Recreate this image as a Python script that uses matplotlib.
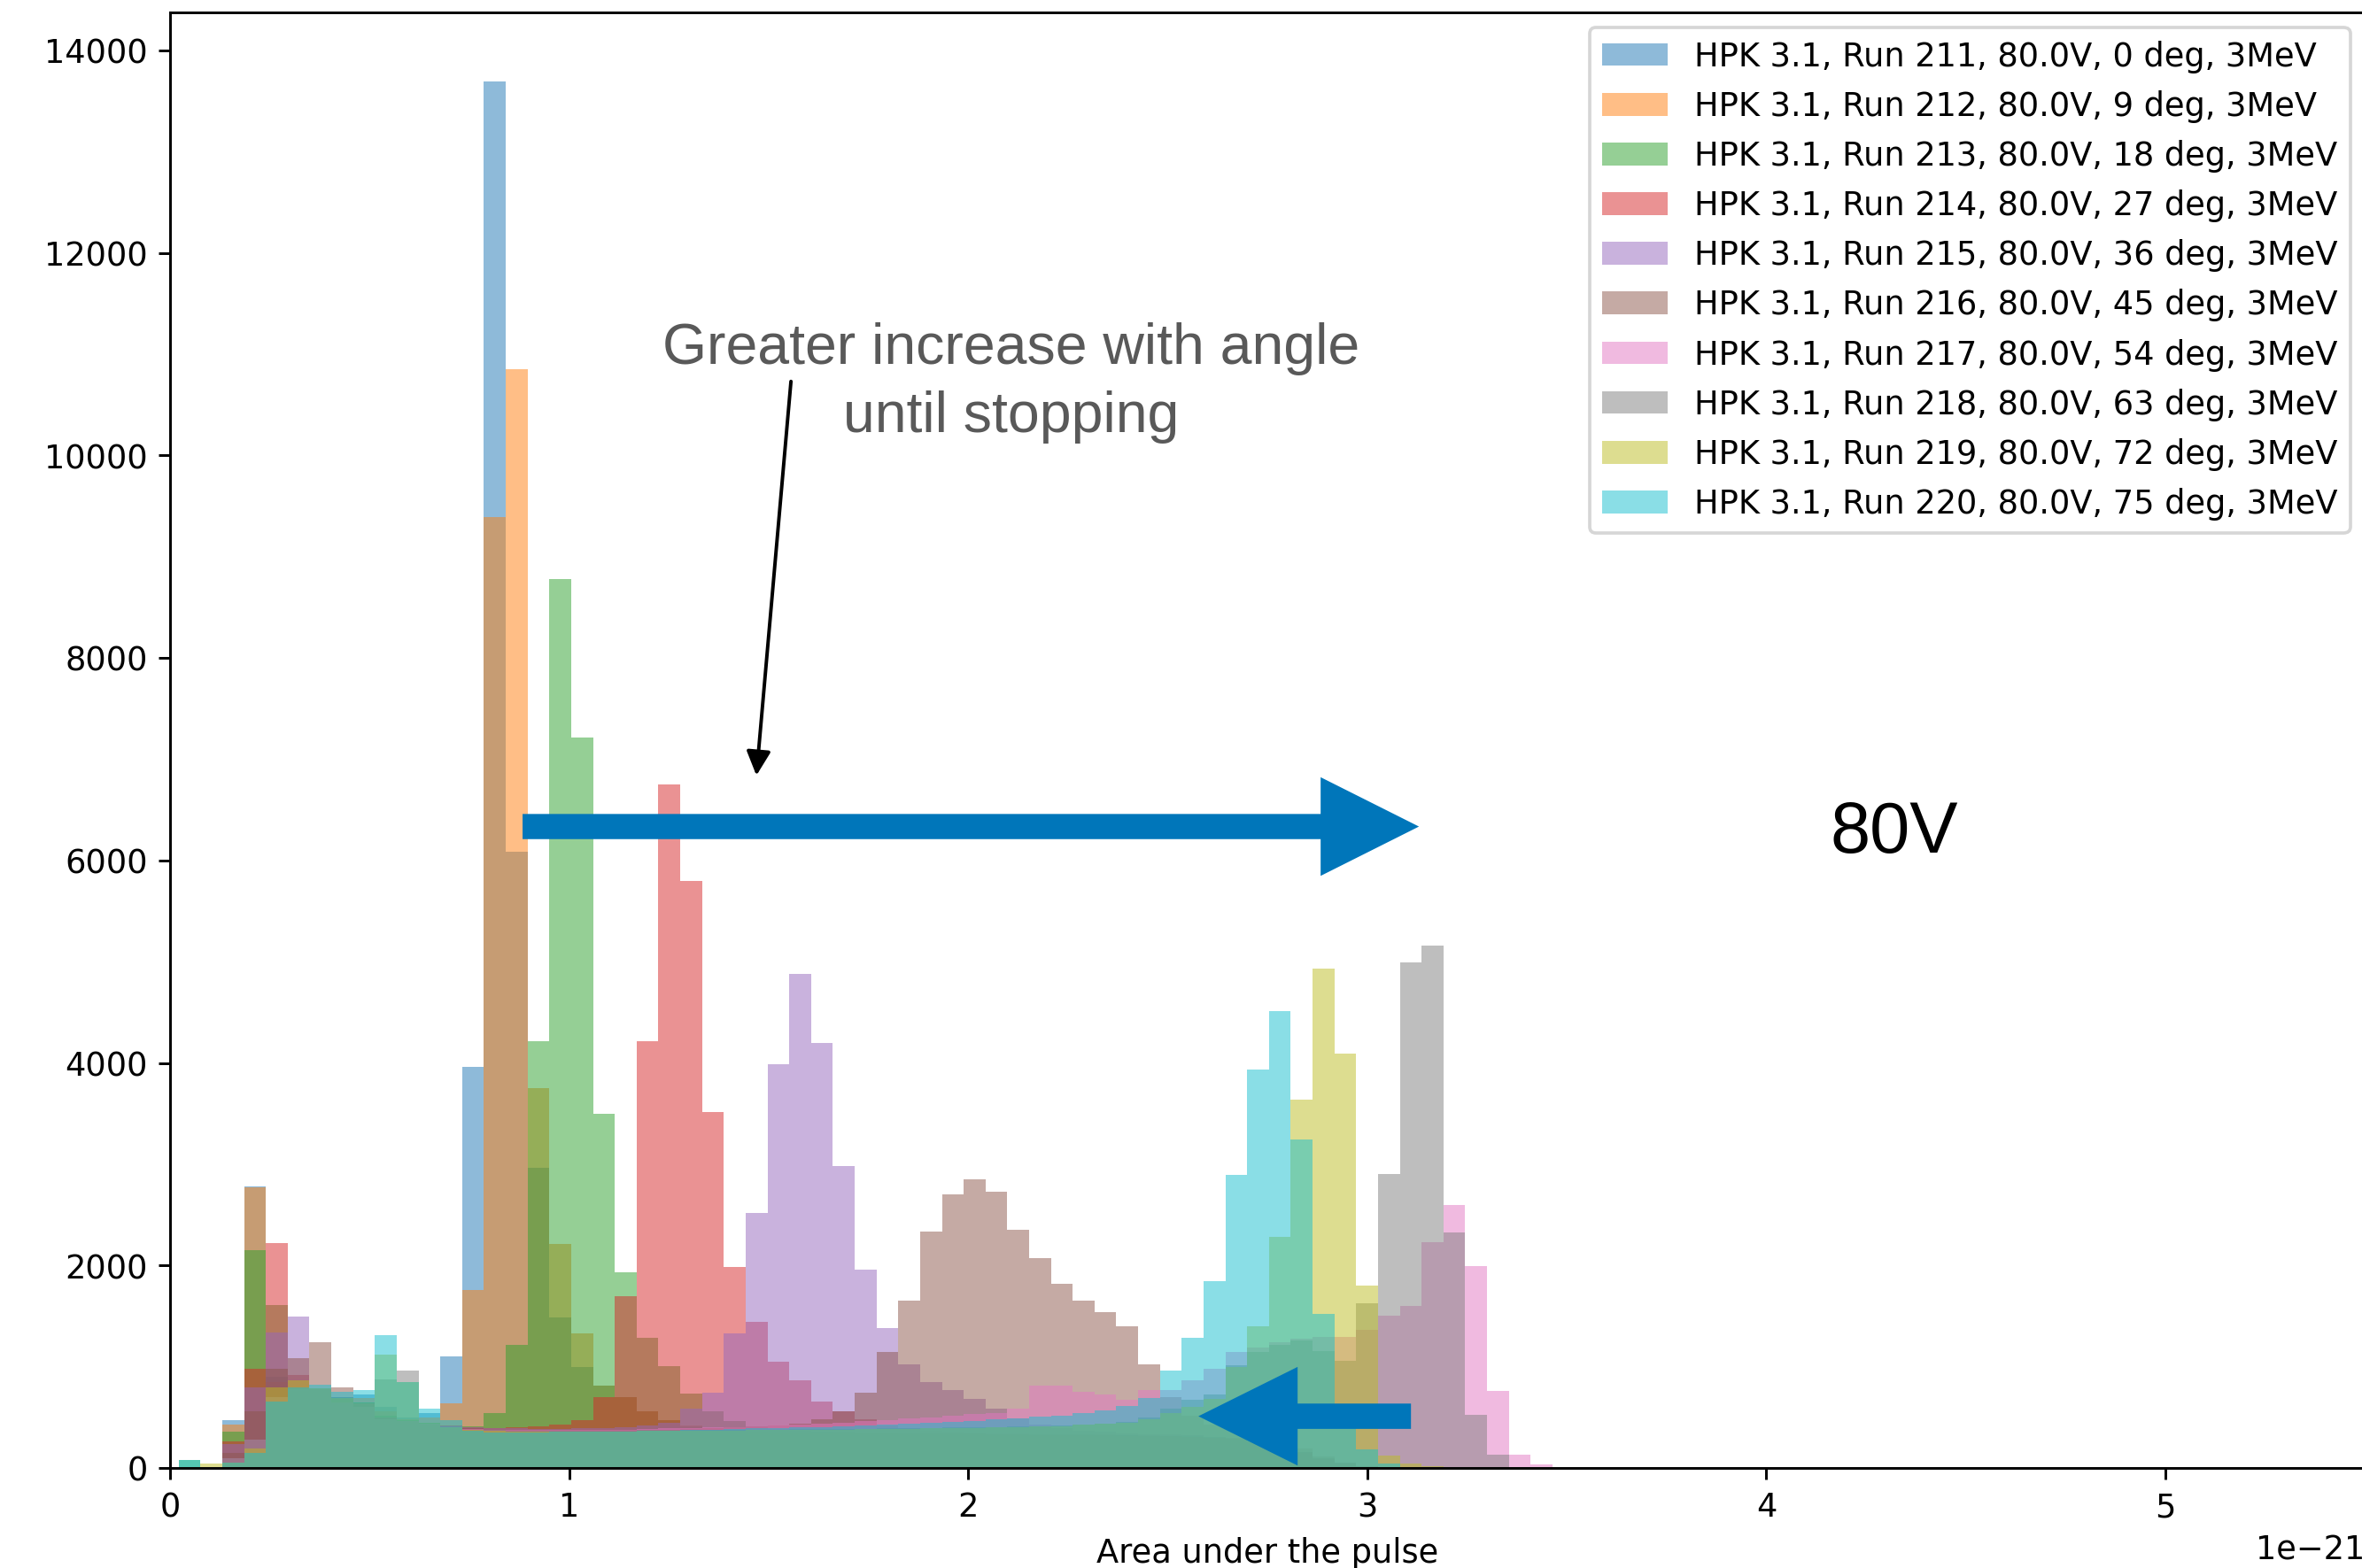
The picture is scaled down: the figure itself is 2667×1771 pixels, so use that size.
import numpy as np
import matplotlib
matplotlib.use("Agg")
import matplotlib.pyplot as plt
from matplotlib.patches import Polygon

# ---------------- data ----------------
BIN_START = 0.0209   # in units of 1e-21
BIN_WIDTH = 0.05465
N_BINS = 64

labels = [
    "HPK 3.1, Run 211, 80.0V, 0 deg, 3MeV",
    "HPK 3.1, Run 212, 80.0V, 9 deg, 3MeV",
    "HPK 3.1, Run 213, 80.0V, 18 deg, 3MeV",
    "HPK 3.1, Run 214, 80.0V, 27 deg, 3MeV",
    "HPK 3.1, Run 215, 80.0V, 36 deg, 3MeV",
    "HPK 3.1, Run 216, 80.0V, 45 deg, 3MeV",
    "HPK 3.1, Run 217, 80.0V, 54 deg, 3MeV",
    "HPK 3.1, Run 218, 80.0V, 63 deg, 3MeV",
    "HPK 3.1, Run 219, 80.0V, 72 deg, 3MeV",
    "HPK 3.1, Run 220, 80.0V, 75 deg, 3MeV",
]

run211 = [0, 0, 470, 2780, 900, 780, 790, 700, 726, 600, 500, 540, 1100, 3960, 13690, 6090,
          2960, 1490, 1000, 810, 700, 560, 470, 410, 380, 365, 355, 350, 345, 350, 340, 345,
          340, 335, 340, 338, 335, 330, 332, 330, 325, 328, 325, 320, 318, 315, 310, 300,
          290, 260, 220, 160, 100, 50, 20, 0, 0, 0, 0, 0, 0, 0, 0, 0]
run212 = [0, 0, 428, 2770, 850, 770, 780, 680, 690, 560, 480, 500, 634, 1755, 9390, 10850,
          3755, 2215, 1330, 817, 702, 563, 472, 420, 390, 370, 360, 352, 348, 345, 345, 340,
          342, 338, 335, 336, 332, 330, 328, 326, 325, 322, 320, 318, 315, 312, 308, 300,
          285, 255, 210, 150, 90, 45, 15, 0, 0, 0, 0, 0, 0, 0, 0, 0]
run213 = [77, 0, 354, 2148, 1611, 760, 770, 650, 650, 520, 470, 450, 378, 407, 540, 1218,
          4218, 8780, 7218, 3496, 1935, 1286, 1006, 732, 560, 460, 410, 385, 370, 360, 355, 350,
          348, 345, 342, 340, 338, 335, 332, 330, 328, 325, 322, 320, 318, 315, 312, 305,
          290, 260, 215, 155, 95, 45, 15, 0, 0, 0, 0, 0, 0, 0, 0, 0]
run214 = [0, 0, 260, 982, 2221, 915, 780, 650, 640, 500, 460, 440, 420, 400, 395, 400,
          410, 430, 470, 702, 1699, 4218, 6747, 5798, 3519, 1985, 1445, 1050, 864, 658, 560, 480,
          420, 390, 370, 360, 350, 345, 340, 335, 332, 330, 328, 325, 320, 315, 310, 300,
          285, 255, 210, 150, 90, 45, 15, 0, 0, 0, 0, 0, 0, 0, 0, 0]
run215 = [0, 0, 236, 797, 1336, 1493, 780, 650, 640, 500, 460, 440, 410, 400, 390, 390,
          385, 385, 390, 395, 400, 420, 450, 584, 746, 1330, 2516, 3985, 4880, 4200, 2982, 1962,
          1381, 1027, 844, 770, 681, 584, 490, 430, 390, 370, 355, 345, 335, 330, 320, 310,
          295, 260, 215, 155, 95, 45, 15, 0, 0, 0, 0, 0, 0, 0, 0, 0]
run216 = [0, 0, 150, 563, 982, 1080, 1239, 797, 640, 500, 460, 440, 400, 390, 380, 380,
          375, 375, 375, 375, 378, 380, 380, 385, 390, 400, 410, 420, 440, 480, 560, 746,
          1145, 1655, 2333, 2702, 2847, 2729, 2354, 2074, 1820, 1655, 1537, 1401, 1027, 700, 520, 430,
          380, 330, 270, 190, 110, 50, 15, 0, 0, 0, 0, 0, 0, 0, 0, 0]
run217 = [0, 0, 100, 283, 700, 780, 780, 650, 600, 480, 460, 440, 400, 385, 380, 378,
          375, 375, 375, 378, 380, 385, 390, 395, 400, 405, 410, 420, 430, 440, 450, 460,
          475, 490, 500, 515, 530, 540, 584, 814, 814, 752, 723, 673, 770, 770, 864, 982,
          1145, 1190, 1240, 1280, 1290, 1297, 1367, 1507, 1602, 2233, 2601, 1995, 761, 130, 35, 0]
run218 = [0, 0, 100, 283, 700, 780, 780, 700, 640, 870, 959, 450, 400, 380, 372, 370,
          370, 368, 368, 370, 370, 372, 372, 374, 375, 376, 378, 380, 382, 384, 386, 388,
          390, 392, 395, 398, 400, 405, 410, 415, 420, 430, 440, 455, 500, 584, 673, 723,
          1012, 1145, 1218, 1260, 1150, 1062, 1623, 2899, 4996, 5161, 2324, 526, 130, 0, 0, 0]
run219 = [0, 47, 53, 195, 797, 864, 790, 690, 640, 1121, 844, 450, 400, 380, 365, 362,
          360, 360, 360, 362, 362, 364, 365, 366, 368, 370, 372, 374, 376, 378, 380, 382,
          385, 388, 390, 393, 396, 400, 405, 410, 415, 425, 435, 450, 480, 540, 600, 680,
          1000, 1401, 2286, 3637, 4929, 4091, 1805, 120, 40, 20, 0, 0, 0, 0, 0, 0]
run220 = [77, 0, 53, 150, 658, 797, 820, 755, 770, 1313, 844, 584, 472, 363, 350, 350,
          352, 355, 358, 360, 362, 365, 370, 375, 380, 385, 390, 395, 400, 405, 412, 420,
          428, 436, 445, 455, 465, 478, 490, 505, 520, 540, 570, 608, 690, 959, 1283, 1844,
          2894, 3938, 4509, 3245, 1525, 500, 180, 45, 0, 0, 0, 0, 0, 0]

series = [run211, run212, run213, run214, run215, run216, run217, run218, run219, run220]

# ---------------- figure ----------------
W, H = 2667, 1771
DPI = 265
fig = plt.figure(figsize=((W + 0.3) / DPI, (H + 0.3) / DPI), dpi=DPI)

ax_left, ax_right = 192.3, 2670.0
ax_top, ax_bottom = 14.5, 1658.0
ax = fig.add_axes([ax_left / W, (H - ax_bottom) / H,
                   (ax_right - ax_left) / W, (ax_bottom - ax_top) / H])

edges = (BIN_START + BIN_WIDTH * np.arange(N_BINS + 1)) * 1e-21
centers = 0.5 * (edges[:-1] + edges[1:])

for vals, lab in zip(series, labels):
    vals = np.array(vals + [0] * (N_BINS - len(vals)), dtype=float)
    ax.hist(centers, bins=edges, weights=vals, alpha=0.5, label=lab)

ymax = max(max(s) for s in series)
ax.set_xlim(0, 5.5e-21)
ax.set_ylim(0, ymax * 1.05)
ax.set_xlabel("Area under the pulse")
ax.legend(loc="upper right", labelspacing=0.52, borderaxespad=0.45)


def fpx(x, y):
    """figure pixel (top-left origin) -> figure fraction"""
    return (x / W, 1 - y / H)


# blue block arrows
BLUE = "#0076BA"


def block_arrow(x_tail, x_tip, yc, head_len, head_half, shaft_half):
    d = 1 if x_tip > x_tail else -1
    xb = x_tip - d * head_len
    pts = [(x_tail, yc - shaft_half), (xb, yc - shaft_half), (xb, yc - head_half),
           (x_tip, yc), (xb, yc + head_half), (xb, yc + shaft_half), (x_tail, yc + shaft_half)]
    poly = Polygon([fpx(*p) for p in pts], closed=True, transform=fig.transFigure,
                   facecolor=BLUE, edgecolor="none", zorder=10, clip_on=False)
    fig.add_artist(poly)


block_arrow(590, 1602, 933.7, 111, 55.7, 14.2)
block_arrow(1593, 1353, 1599.6, 112, 55.7, 14.3)

# thin black arrow
ax.annotate("", xy=fpx(854, 876), xytext=fpx(893, 431),
            xycoords="figure fraction", textcoords="figure fraction",
            arrowprops=dict(arrowstyle="-|>", color="black", lw=1.07,
                            mutation_scale=15.6, shrinkA=0, shrinkB=0), zorder=11)

# annotation texts
fig.text(*fpx(1141.5, 410.7), "Greater increase with angle", ha="center", va="baseline",
         family="Liberation Sans", fontsize=17.5, color="#595959")
fig.text(*fpx(1141.5, 487.5), "until stopping", ha="center", va="baseline",
         family="Liberation Sans", fontsize=17.5, color="#595959")
fig.text(*fpx(2139, 963), "80V", ha="center", va="baseline",
         family="Liberation Sans", fontsize=22.1, color="black")

fig.savefig("out.png", dpi=DPI)
